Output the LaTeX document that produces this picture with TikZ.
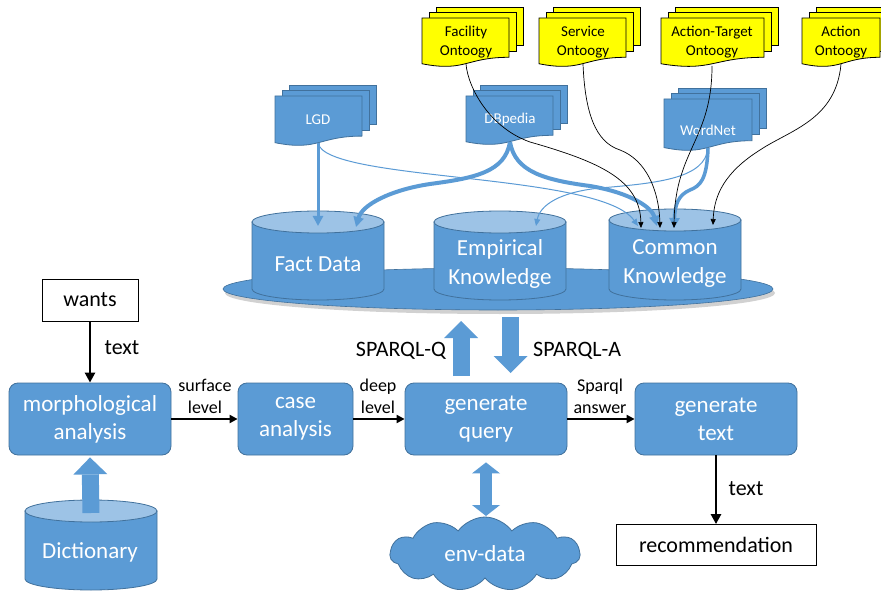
\documentclass[tikz,border=0pt]{standalone}
\usepackage{fontspec}
\setmainfont{Carlito}
\usetikzlibrary{arrows.meta,shapes.symbols}
\definecolor{bm}{HTML}{5B9BD5}
\definecolor{bd}{HTML}{41719C}
\definecolor{bl}{HTML}{9DC3E6}
\definecolor{yel}{HTML}{FFFF00}
% cylinder: cx, top-ellipse centre y, bottom-ellipse centre y, rx
\newcommand{\cylshape}[4]{%
  \filldraw[fill=bm,draw=bd,line width=0.8pt] ({#1-#4},#2) -- ({#1-#4},#3)
    arc[start angle=180,end angle=360,x radius=#4pt,y radius=11pt] -- ({#1+#4},#2) -- cycle;
  \filldraw[fill=bl,draw=bd,line width=0.8pt] (#1,#2) ellipse[x radius=#4pt,y radius=11pt];}
% multi-document: x1, x2, top y (px, positive), h, fill, draw
\newcommand{\mdoc}[6]{%
  \filldraw[fill=#5,draw=#6,line width=0.8pt] ({#1+14},{-(#3-11)}) rectangle ({#2+14},{-(#3+0.8*#4-12)});
  \filldraw[fill=#5,draw=#6,line width=0.8pt] ({#1+7},{-(#3-5.5)}) rectangle ({#2+7},{-(#3+0.8*#4-6)});
  \filldraw[fill=#5,draw=#6,line width=0.8pt] (#1,{-#3}) -- (#2,{-#3}) -- (#2,{-(#3+0.802*#4)})
    .. controls ({(#1+#2)/2},{-(#3+0.802*#4)}) and ({(#1+#2)/2},{-(#3+1.107*#4)}) .. (#1,{-(#3+0.934*#4)}) -- cycle;}
\begin{document}
\begin{tikzpicture}[x=1pt,y=1pt,
  proc/.style={rectangle,rounded corners=9pt,fill=bm,draw=bd,line width=0.8pt,text=white,
    font=\fontsize{23}{28}\selectfont,align=center,minimum height=72pt,inner sep=0pt},
  wbox/.style={rectangle,draw=black,line width=0.8pt,fill=white,font=\fontsize{22}{26}\selectfont,inner sep=0pt},
  lbl/.style={font=\fontsize{22}{26}\selectfont,inner sep=0pt},
  slbl/.style={font=\fontsize{18}{22}\selectfont,align=center,inner sep=0pt},
  cyltext/.style={text=white,font=\fontsize{23}{29}\selectfont,align=center,inner sep=0pt},
  ytext/.style={font=\fontsize{15}{19}\selectfont,align=center,inner sep=0pt},
  btext/.style={text=white,font=\fontsize{15}{19}\selectfont,align=center,inner sep=0pt},
  blk/.style={-{Triangle[length=10pt,width=10pt]},line width=2.5pt},
  blk2/.style={-{Triangle[length=8pt,width=8pt]},line width=2pt},
  thinb/.style={-{Triangle[length=6pt,width=5pt]},line width=0.7pt,black},
  bluet/.style={-{Triangle[length=7pt,width=6pt]},line width=1pt,bm},
  blueT/.style={-{Triangle[length=10pt,width=10pt]},line width=#1,bm},
  bigarrow/.style={bm,line width=17pt,-{Triangle[length=17pt,width=34pt,line width=0pt]}},
]
\useasboundingbox (0,0) rectangle (881,-596);
\clip (0,0) rectangle (881,-596);
\fill[white] (0,0) rectangle (881,-596);

% platform
\fill[black,opacity=0.18] (500,-293) ellipse[x radius=275pt,y radius=21pt];
\filldraw[fill=bm,draw=bd,line width=0.6pt] (498,-289) ellipse[x radius=275pt,y radius=21pt];

% knowledge cylinders
\cylshape{318}{-222}{-289}{66}
\cylshape{500}{-222}{-289}{66}
\cylshape{675}{-220}{-289}{66}
\node[cyltext] (fact) at (318,-264) {Fact Data};
\node[cyltext] (emp) at (500,-264) {Empirical\\Knowledge};
\node[cyltext] (com) at (675,-264) {Common\\Knowledge};

% source documents
\mdoc{275}{362}{96}{50}{bm}{bd}
\mdoc{466}{553}{96}{49}{bm}{bd}
\mdoc{664}{752}{99}{52}{bm}{bd}
\node[btext] (lgd) at (318,-120) {LGD};
\node[btext] (dbp) at (510,-120) {DBpedia};
\node[btext] (wn) at (708,-130) {WordNet};

\mdoc{422}{509}{18}{49}{yel}{black}
\mdoc{539}{626}{18}{49}{yel}{black}
\mdoc{661}{764}{18}{49}{yel}{black}
\mdoc{802}{880}{18}{49}{yel}{black}
\node[ytext] (fac) at (466,-42) {Facility\\Ontoogy};
\node[ytext] (svc) at (583,-42) {Service\\Ontoogy};
\node[ytext] (at) at (712,-42) {Action-Target\\Ontoogy};
\node[ytext] (act) at (841,-42) {Action\\Ontoogy};

% connector end points
\coordinate (lgdB) at (318,-143);
\coordinate (dbB) at (510,-142);
\coordinate (wnB) at (708,-148);
\coordinate (facB) at (466,-64);
\coordinate (svB) at (583,-64);
\coordinate (atB) at (712,-66);
\coordinate (acB) at (841,-64);
\coordinate (factA) at (318,-226);
\coordinate (factB) at (356,-227);
\coordinate (empA) at (536,-226);
\coordinate (comA) at (641,-228);
\coordinate (comB) at (660,-228);
\coordinate (comC) at (674,-228);
\coordinate (comD) at (713,-225);
\coordinate (comE) at (638,-226);
\coordinate (comF) at (657,-226);

% blue connectors
\draw[bluet] (lgdB) .. controls (325,-182) and (600,-172) .. (comE);
\draw[bluet] (wnB) .. controls (705,-178) and (660,-183) .. (600,-188) .. controls (560,-192) and (540,-205) .. (empA);
\draw[blueT=3pt] (lgdB) -- (factA);
\draw[blueT=4pt] (dbB) .. controls (505,-172) and (475,-178) .. (430,-184) .. controls (390,-190) and (362,-205) .. (factB);
\draw[blueT=4pt] (dbB) .. controls (515,-172) and (545,-180) .. (590,-186) .. controls (632,-193) and (652,-208) .. (comF);
\draw[blueT=3.5pt] (wnB) .. controls (707,-180) and (700,-186) .. (690,-190) .. controls (678,-195) and (675,-205) .. (comC);

% black connectors
\draw[thinb] (facB) .. controls (468,-88) and (490,-128) .. (530,-142) .. controls (600,-162) and (640,-180) .. (comA);
\draw[thinb] (svB) .. controls (585,-112) and (595,-142) .. (620,-150) .. controls (646,-160) and (659,-190) .. (comB);
\draw[thinb] (atB) .. controls (712,-140) and (675,-150) .. (comC);
\draw[thinb] (acB) .. controls (836,-120) and (790,-130) .. (760,-150) .. controls (725,-172) and (714,-195) .. (comD);

% process chain
\node[wbox,minimum width=96pt,minimum height=42pt] (wants) at (90,-300) {wants};
\node[proc,minimum width=162pt] (morph) at (90,-419) {morphological\\analysis};
\node[proc,minimum width=115pt] (case) at (295.5,-419) {case\\analysis};
\node[proc,minimum width=162pt] (query) at (486,-419) {generate\\query};
\node[proc,minimum width=162pt] (gtext) at (716,-419) {generate\\text};
\node[wbox,minimum width=200pt,minimum height=41pt] (rec) at (716,-545) {recommendation};

\draw[blk] (wants.south) -- (morph.north);
\node[lbl] (t1) at (122,-348) {text};
\draw[blk2] (morph.east) -- (case.west);
\node[slbl] (l1) at (205,-396) {surface\\level};
\draw[blk2] (case.east) -- (query.west);
\node[slbl] (l2) at (378,-396) {deep\\level};
\draw[blk2] (query.east) -- (gtext.west);
\node[slbl] (l3) at (600,-396) {Sparql\\answer};
\draw[blk] (gtext.south) -- (rec.north);
\node[lbl] (t2) at (746,-489) {text};

% SPARQL block arrows
\coordinate (sqS) at (461,-376);
\coordinate (sqE) at (461,-321);
\coordinate (saS) at (510.5,-317);
\coordinate (saE) at (510.5,-373);
\draw[bigarrow] (sqS) -- (sqE);
\draw[bigarrow] (saS) -- (saE);
\node[lbl,anchor=east] (sq) at (446,-351) {SPARQL-Q};
\node[lbl,anchor=west] (sa) at (533,-351) {SPARQL-A};

% dictionary
\cylshape{91}{-511}{-579}{66}
\node[cyltext] (dict) at (90,-552) {Dictionary};
\coordinate (dictT) at (91,-513);
\draw[bigarrow] (dictT) -- ([yshift=-2pt]morph.south);

% env-data cloud
\node[cloud,cloud puffs=11,cloud puff arc=110,cloud ignores aspect,fill=bm,draw=bd,line width=0.8pt,
  minimum width=190pt,minimum height=74pt,text=white,font=\fontsize{23}{28}\selectfont] (env) at (485,-554) {env-data};
\coordinate (envT) at (486,-516);
\draw[bm,line width=12pt,{Triangle[length=11pt,width=28pt,line width=0pt]}-{Triangle[length=11pt,width=28pt,line width=0pt]}] ([yshift=-7pt]query.south) -- (envT);
\end{tikzpicture}
\end{document}
